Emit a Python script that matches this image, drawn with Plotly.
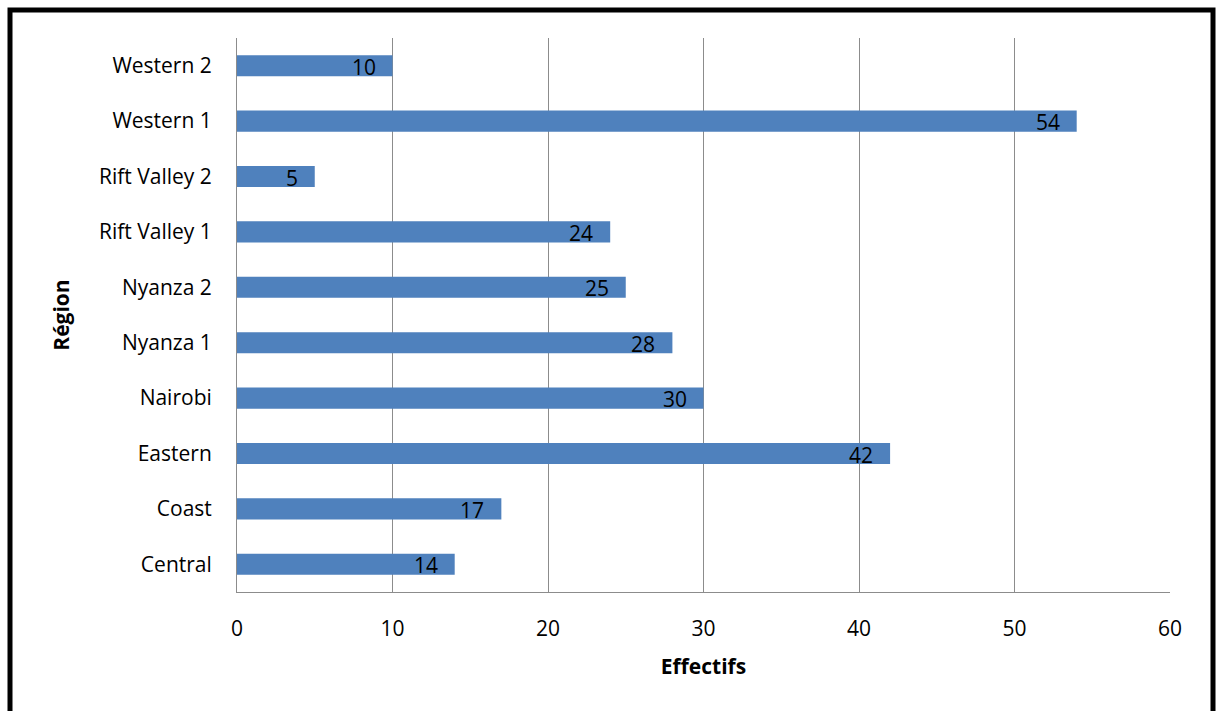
import plotly.graph_objects as go

# Effectifs par région
regions = ["Central", "Coast", "Eastern", "Nairobi", "Nyanza 1", "Nyanza 2",
           "Rift Valley 1", "Rift Valley 2", "Western 1", "Western 2"]
effectifs = [14, 17, 42, 30, 28, 25, 24, 5, 54, 10]
x_ticks = [0, 10, 20, 30, 40, 50, 60]

W, H = 1220, 711
L, R, T, B = 237, 50, 38, 119
FONT = "Open Sans, Noto Sans, sans-serif"

fig = go.Figure(go.Bar(
    x=effectifs,
    y=regions,
    orientation="h",
    marker=dict(color="#4F81BD", line=dict(width=0)),
    hoverinfo="x+y",
))

# value labels placed just inside the end of each bar
for reg, val in zip(regions, effectifs):
    fig.add_annotation(
        x=val, y=reg, xref="x", yref="y",
        text=str(val), showarrow=False,
        xanchor="right", yanchor="middle", xshift=-15, yshift=-1,
        font=dict(family=FONT, size=21, color="#000000"),
    )

pw = W - L - R
ph = H - T - B


def px_to_paper_x(px):
    return (px - L) / pw


def px_to_paper_y(py):
    return (H - B - py) / ph


fig.update_layout(
    width=W, height=H,
    margin=dict(l=L, r=R, t=T, b=B, pad=0),
    paper_bgcolor="white",
    plot_bgcolor="white",
    bargap=0.62,
    showlegend=False,
    font=dict(family=FONT, color="#000000"),
    xaxis=dict(
        range=[0, 60],
        tickvals=x_ticks,
        ticktext=[str(v) for v in x_ticks],
        tickfont=dict(size=21),
        showgrid=True, gridcolor="#8C8C8C", gridwidth=1,
        showline=True, linecolor="#8C8C8C", linewidth=1,
        zeroline=False,
        ticks="", ticklabelstandoff=18,
        title=dict(text="<b>Effectifs</b>", font=dict(size=21), standoff=18),
        fixedrange=True,
    ),
    yaxis=dict(
        categoryorder="array", categoryarray=regions,
        tickfont=dict(size=21),
        showline=True, linecolor="#8C8C8C", linewidth=1,
        showgrid=False, zeroline=False,
        ticks="", ticklabelstandoff=20,
        title=dict(text="<b>Région</b>", font=dict(size=21), standoff=23),
        fixedrange=True,
    ),
    shapes=[
        dict(type="rect", xref="paper", yref="paper",
             x0=px_to_paper_x(10), x1=px_to_paper_x(1213),
             y0=px_to_paper_y(10), y1=px_to_paper_y(720),
             line=dict(color="#000000", width=5), fillcolor="rgba(0,0,0,0)",
             layer="above"),
    ],
)

fig.write_html("out.html")
